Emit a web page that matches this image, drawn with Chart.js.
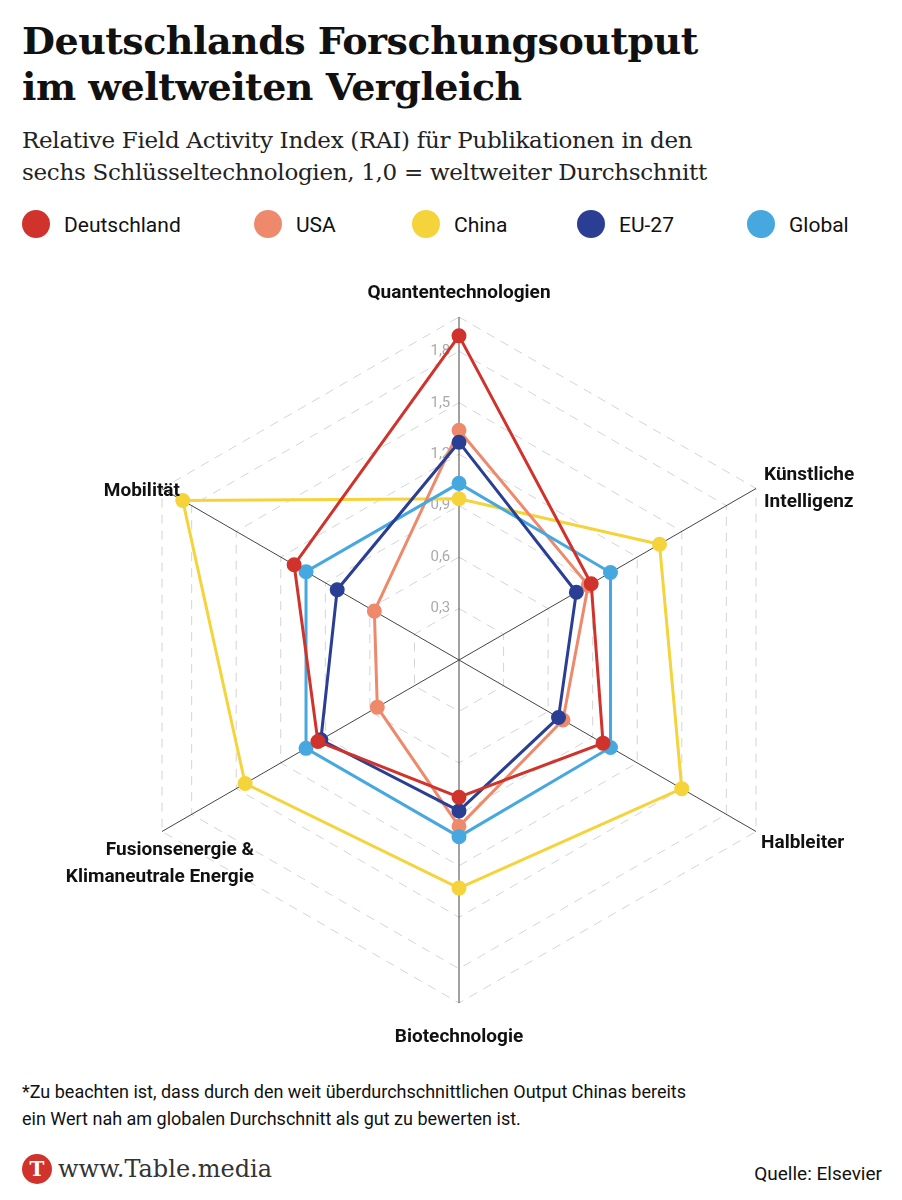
<!DOCTYPE html>
<html><head><meta charset="utf-8">
<script src="https://cdn.jsdelivr.net/npm/chart.js@4"></script>
<style>
body{margin:0;background:#fff;width:902px;height:1200px;position:relative;font-family:Roboto,sans-serif;color:#111}
h1{position:absolute;left:22px;top:18px;margin:0;font:bold 38px/46px "DejaVu Serif",serif;letter-spacing:-0.5px}
.sub{position:absolute;left:22px;top:124px;font:23px/32px "DejaVu Serif",serif;color:#222;letter-spacing:-0.3px}
#legend{position:absolute;left:22px;top:210px;width:870px;height:30px}
.li{position:absolute;top:0;font:21px Roboto,sans-serif;line-height:30px}
.li span{display:inline-block;width:28px;height:28px;border-radius:50%;vertical-align:middle;margin-right:14px;margin-top:-4px}
#wrap{position:absolute;left:0;top:280px;width:902px;height:790px}
.note{position:absolute;left:22px;top:1078px;font:18px/27px Roboto,sans-serif;color:#111}
.logo{position:absolute;left:22px;top:1155px;font:24px "DejaVu Serif",serif;color:#333}
.logo b{display:inline-block;width:30px;height:30px;border-radius:50%;background:#d0332b;color:#fff;text-align:center;line-height:30px;font-size:20px;margin-right:6px;vertical-align:middle;margin-top:-4px}
.src{position:absolute;right:20px;top:1162px;font:19px Roboto,sans-serif;color:#111}
</style></head><body>
<h1>Deutschlands Forschungsoutput<br>im weltweiten Vergleich</h1>
<div class="sub">Relative Field Activity Index (RAI) für Publikationen in den<br>sechs Schlüsseltechnologien, 1,0 = weltweiter Durchschnitt</div>
<div id="legend"></div>
<div id="wrap"><canvas id="c"></canvas></div>
<div class="note">*Zu beachten ist, dass durch den weit überdurchschnittlichen Output Chinas bereits<br>ein Wert nah am globalen Durchschnitt als gut zu bewerten ist.</div>
<div class="logo"><b>T</b>www.Table.media</div>
<div class="src">Quelle: Elsevier</div>
<script>
const categories = ['Quantentechnologien', 'Künstliche Intelligenz', 'Halbleiter', 'Biotechnologie', 'Fusionsenergie & Klimaneutrale Energie', 'Mobilität'];
const seriesNames = ['Deutschland', 'USA', 'China', 'EU-27', 'Global'];
const deutschland = [1.89, 0.89, 0.97, 0.80, 0.95, 1.11];
const usa = [1.34, 0.87, 0.70, 0.97, 0.55, 0.57];
const china = [0.94, 1.35, 1.50, 1.33, 1.44, 1.86];
const eu27 = [1.27, 0.79, 0.67, 0.88, 0.93, 0.82];
const global = [1.03, 1.02, 1.02, 1.03, 1.03, 1.03];
const colors = ['#d0332b', '#ee8a6b', '#f5d33a', '#2a3f94', '#47a8e0'];
const legendX = [0, 232, 390, 555, 725];

const leg = document.getElementById('legend');
seriesNames.forEach((n, i) => {
    const d = document.createElement('div');
    d.className = 'li'; d.style.left = legendX[i] + 'px';
    d.innerHTML = '<span style="background:' + colors[i] + '"></span>' + n;
    leg.appendChild(d);
});

// label lines and alignment per axis
const labelLines = [['Quantentechnologien'], ['Künstliche', 'Intelligenz'], ['Halbleiter'], ['Biotechnologie'], ['Fusionsenergie &', 'Klimaneutrale Energie'], ['Mobilität']];
const labelPlace = [[0, -367, 'center'], [8, 0, 'left'], [5, 12, 'left'], [0, 377, 'center'], [92, 32, 'right'], [18, 3, 'right']];

const labelPlugin = {
    id: 'axisLabels',
    afterDraw(chart) {
        const s = chart.scales.r, c = chart.ctx;
        c.save();
        c.font = 'bold 19px Roboto, sans-serif';
        c.fillStyle = '#111';
        c.textBaseline = 'middle';
        labelLines.forEach((lines, i) => {
            const p = s.getPointPosition(i, s.drawingArea);
            let x = p.x, y = p.y;
            if (i === 0 || i === 3) { x = s.xCenter; y = s.yCenter + labelPlace[i][1]; }
            else { x += labelPlace[i][0]; y += labelPlace[i][1]; }
            c.textAlign = labelPlace[i][2];
            lines.forEach((t, k) => c.fillText(t, x, y + (k - (lines.length - 1) / 2) * 27));
        });
        c.restore();
    }
};

const data = [deutschland, usa, china, eu27, global];
new Chart(document.getElementById('c'), {
    type: 'radar',
    data: {
        labels: categories,
        datasets: data.map((d, i) => ({
            label: seriesNames[i], data: d,
            borderColor: colors[i], backgroundColor: 'transparent',
            pointBackgroundColor: colors[i], pointBorderColor: colors[i],
            borderWidth: 3, pointRadius: 6, order: [1, 4, 5, 2, 3][i]
        }))
    },
    options: {
        responsive: true, maintainAspectRatio: false, animation: false,
        layout: { padding: { top: 27, bottom: 57, left: 16, right: 0 } },
        plugins: { legend: { display: false }, tooltip: { enabled: false } },
        scales: {
            r: {
                min: 0, max: 2.0,
                angleLines: { color: '#444', lineWidth: 1 },
                grid: { color: '#d4d4d4', circular: false },
                border: { dash: [9, 7] },
                pointLabels: { display: false },
                ticks: {
                    stepSize: 0.3, showLabelBackdrop: false, color: '#aaa',
                    font: { size: 15, family: 'Roboto' },
                    callback: v => v > 1.9 ? '' : v.toFixed(1).replace('.', ',') + '          '
                }
            }
        }
    },
    plugins: [labelPlugin]
});
</script>
</body></html>
